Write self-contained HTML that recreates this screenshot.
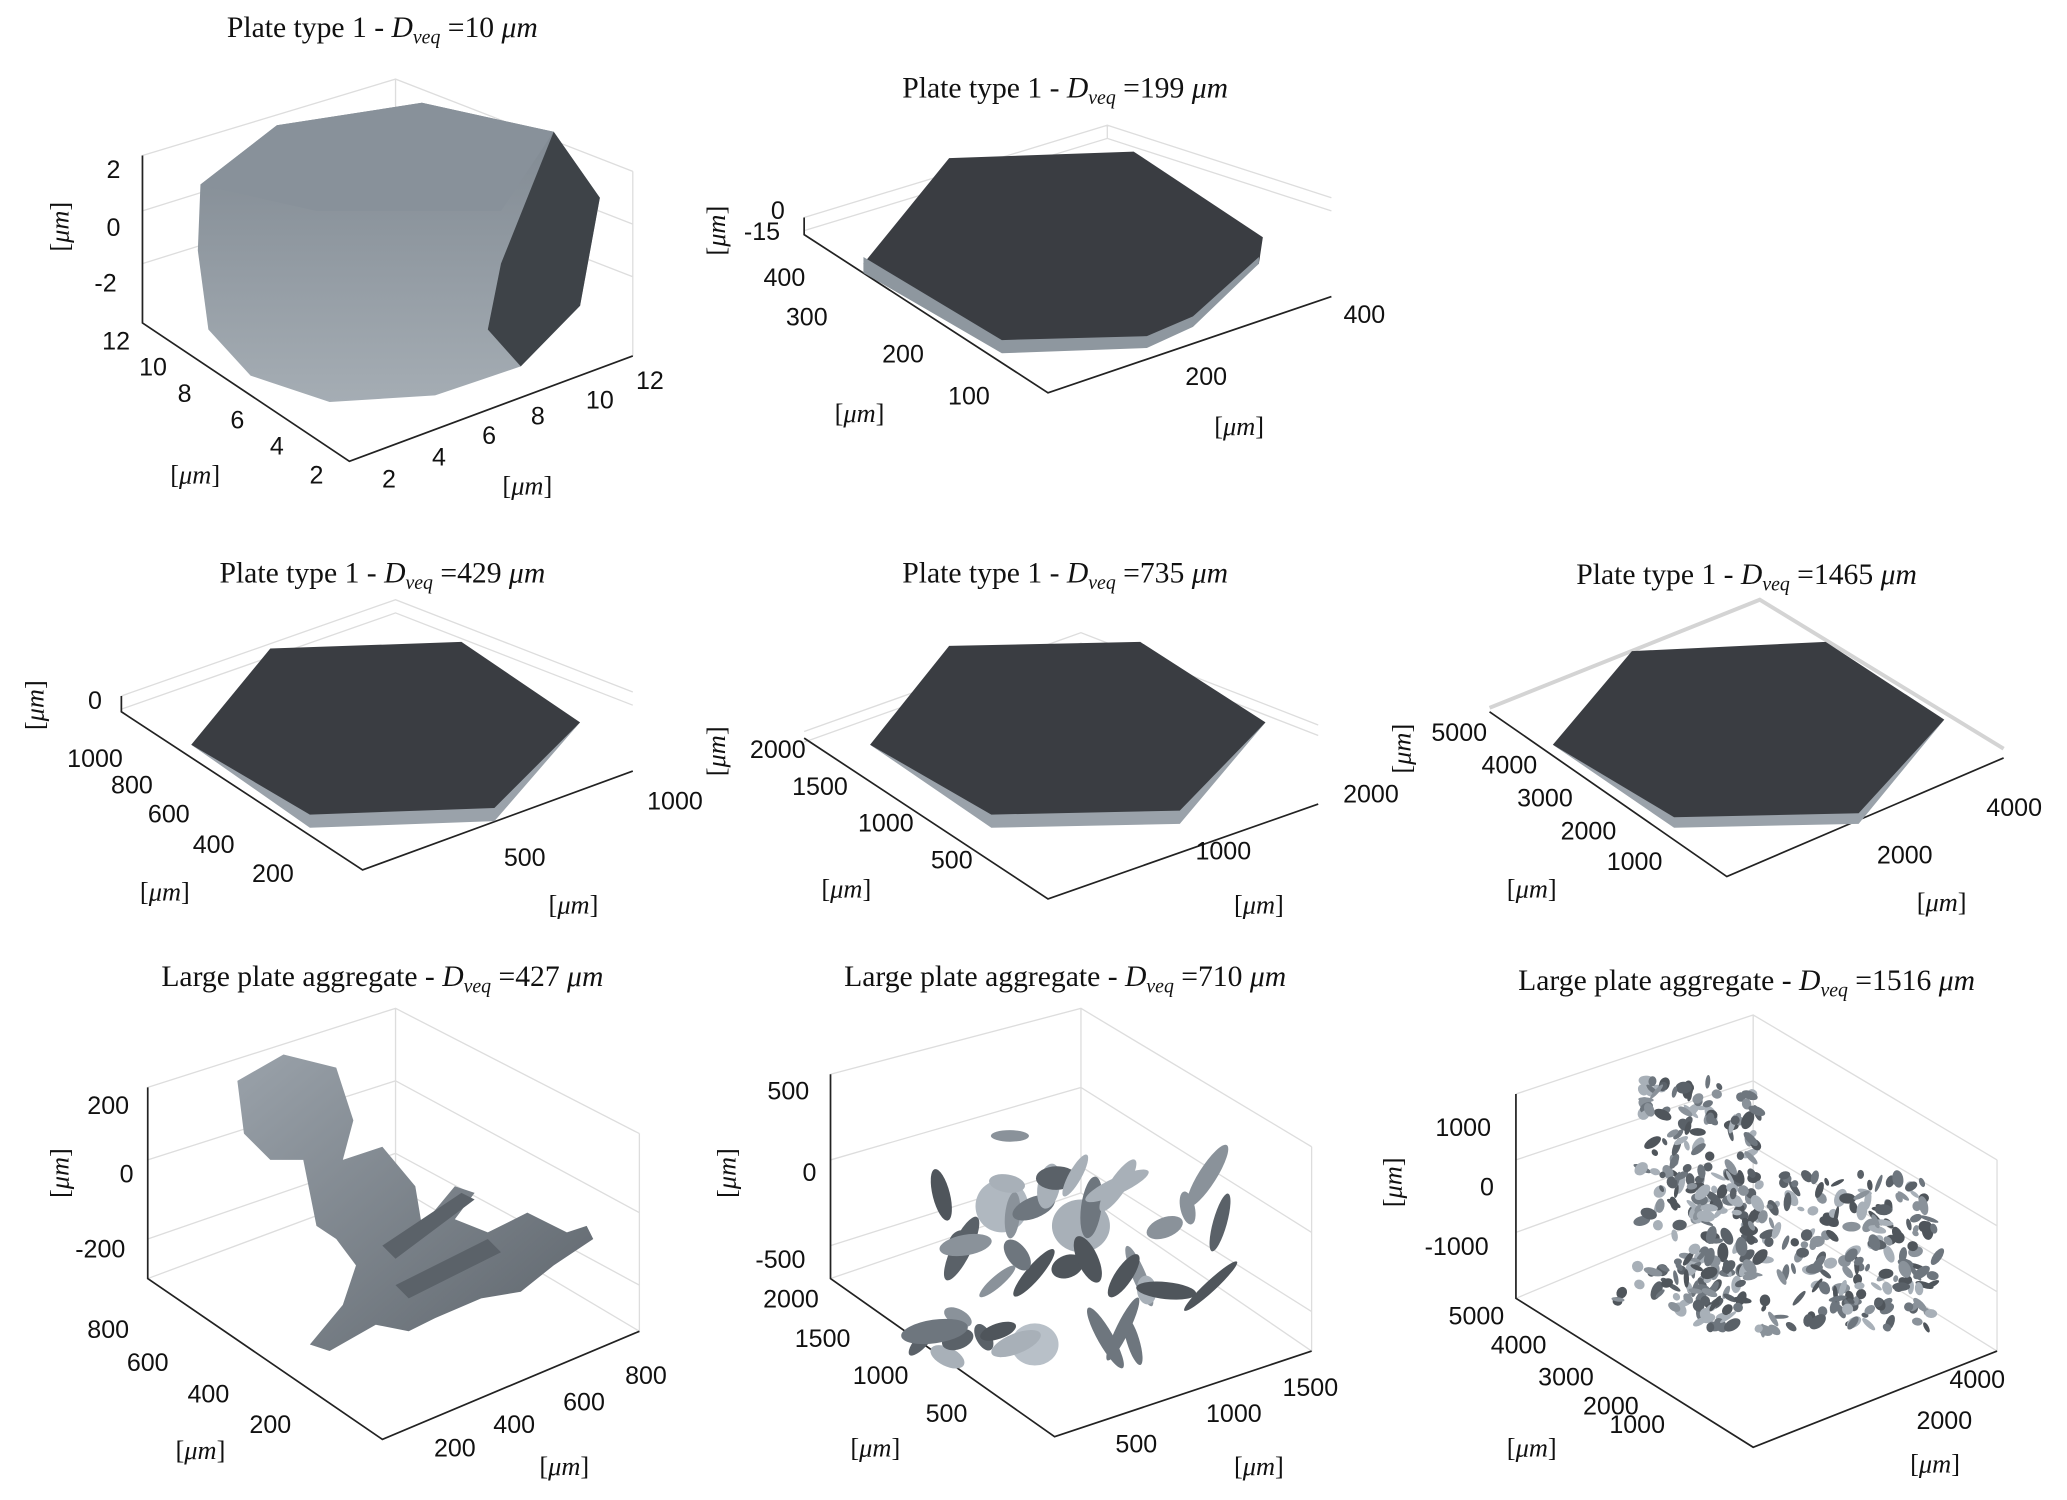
<!DOCTYPE html>
<html><head><meta charset="utf-8"><style>
html,body{margin:0;padding:0;background:#fff}
svg{display:block}
.t{font-family:"Liberation Serif",serif;font-size:22.5px;fill:#111;text-anchor:middle}
.k{font-family:"Liberation Sans","DejaVu Sans",sans-serif;font-size:19px;fill:#111;text-anchor:middle}
.l{font-family:"Liberation Serif",serif;font-size:20px;fill:#111;text-anchor:middle}
.ax{stroke:#222;stroke-width:1.3;fill:none}
.g{stroke:#ddd;stroke-width:1;fill:none}
</style></head><body>
<svg id="s" width="2067" height="1500" viewBox="0 0 1568 1138" xmlns="http://www.w3.org/2000/svg">
<defs>
<linearGradient id="pl" x1="0" y1="0" x2="0" y2="1"><stop offset="0" stop-color="#7d868f"/><stop offset="1" stop-color="#a5adb4"/></linearGradient>
<linearGradient id="bl" x1="0" y1="0" x2="1" y2="1"><stop offset="0" stop-color="#9aa2aa"/><stop offset="1" stop-color="#5d646b"/></linearGradient>
</defs>

<text class="t" x="290" y="28">Plate type 1 - <tspan font-style="italic">D<tspan font-size="15" dy="5">veq</tspan></tspan><tspan dy="-5"> =10 </tspan><tspan font-style="italic">μm</tspan></text>
<text class="t" x="808" y="74">Plate type 1 - <tspan font-style="italic">D<tspan font-size="15" dy="5">veq</tspan></tspan><tspan dy="-5"> =199 </tspan><tspan font-style="italic">μm</tspan></text>
<text class="t" x="290" y="442">Plate type 1 - <tspan font-style="italic">D<tspan font-size="15" dy="5">veq</tspan></tspan><tspan dy="-5"> =429 </tspan><tspan font-style="italic">μm</tspan></text>
<text class="t" x="808" y="442">Plate type 1 - <tspan font-style="italic">D<tspan font-size="15" dy="5">veq</tspan></tspan><tspan dy="-5"> =735 </tspan><tspan font-style="italic">μm</tspan></text>
<text class="t" x="1325" y="443">Plate type 1 - <tspan font-style="italic">D<tspan font-size="15" dy="5">veq</tspan></tspan><tspan dy="-5"> =1465 </tspan><tspan font-style="italic">μm</tspan></text>
<text class="t" x="290" y="748">Large plate aggregate - <tspan font-style="italic">D<tspan font-size="15" dy="5">veq</tspan></tspan><tspan dy="-5"> =427 </tspan><tspan font-style="italic">μm</tspan></text>
<text class="t" x="808" y="748">Large plate aggregate - <tspan font-style="italic">D<tspan font-size="15" dy="5">veq</tspan></tspan><tspan dy="-5"> =710 </tspan><tspan font-style="italic">μm</tspan></text>
<text class="t" x="1325" y="751">Large plate aggregate - <tspan font-style="italic">D<tspan font-size="15" dy="5">veq</tspan></tspan><tspan dy="-5"> =1516 </tspan><tspan font-style="italic">μm</tspan></text>

<!-- Panel 1 -->
<g class="g">
<path d="M108,118 L300,60 L480,130 M300,60 L300,180 M108,118 L108,245 M480,130 L480,270 M108,160 L300,100 L480,170 M108,200 L300,140 L480,210"/>
</g>
<path class="ax" d="M108,118 L108,245 L265,350 L480,270"/>
<path d="M152,140 L210,95 L320,78 L420,100 L455,150 L440,232 L395,278 L330,300 L250,305 L190,285 L158,250 L150,190 Z" fill="url(#pl)"/>
<path d="M420,100 L455,150 L440,232 L395,278 L370,250 L380,200 Z" fill="#3e4348"/>
<path d="M152,140 L210,95 L320,78 L420,100 L380,160 L240,160 Z" fill="#88919a"/>
<text class="k" x="86" y="135">2</text><text class="k" x="86" y="179">0</text><text class="k" x="80" y="221">-2</text>
<text class="k" x="88" y="265">12</text><text class="k" x="116" y="285">10</text><text class="k" x="140" y="305">8</text><text class="k" x="180" y="325">6</text><text class="k" x="210" y="345">4</text><text class="k" x="240" y="367">2</text>
<text class="k" x="295" y="370">2</text><text class="k" x="333" y="353">4</text><text class="k" x="371" y="337">6</text><text class="k" x="408" y="322">8</text><text class="k" x="455" y="310">10</text><text class="k" x="493" y="295">12</text>
<text class="l" x="148" y="367">[<tspan font-style="italic">μm</tspan>]</text><text class="l" x="400" y="375">[<tspan font-style="italic">μm</tspan>]</text>
<text class="l" transform="translate(52,172) rotate(-90)">[<tspan font-style="italic">μm</tspan>]</text>

<!-- Panel 2 -->
<path class="g" d="M610,165 L840,95 L1010,150 M610,175 L840,105 L1010,160 M840,95 L840,105"/>
<path class="ax" d="M610,165 L610,178 L795,298 L1010,225"/>
<path d="M655,200 L720,120 L860,115 L958,180 L955,200 L905,245 L870,262 L760,267 L655,207 Z" fill="#3a3d42"/>
<path d="M655,195 L760,258 L870,255 L905,240 L955,195 L955,200 L905,248 L870,264 L760,268 L655,207 Z" fill="#8e979f"/>
<text class="k" x="590" y="166">0</text><text class="k" x="578" y="182">-15</text>
<text class="k" x="595" y="217">400</text><text class="k" x="612" y="247">300</text><text class="k" x="685" y="275">200</text><text class="k" x="735" y="307">100</text>
<text class="k" x="915" y="292">200</text><text class="k" x="1035" y="245">400</text>
<text class="l" x="652" y="320">[<tspan font-style="italic">μm</tspan>]</text><text class="l" x="940" y="330">[<tspan font-style="italic">μm</tspan>]</text>
<text class="l" transform="translate(550,175) rotate(-90)">[<tspan font-style="italic">μm</tspan>]</text>

<!-- Panel 4 -->
<path class="g" d="M92,528 L300,455 L480,525 M92,538 L300,465 L480,535"/>
<path class="ax" d="M92,528 L92,540 L275,660 L480,585"/>
<path d="M145,565 L205,492 L350,487 L440,548 L375,620 L235,625 Z" fill="#3a3d42"/>
<path d="M145,565 L235,618 L375,613 L440,548 L375,623 L235,628 Z" fill="#9aa2aa"/>
<text class="k" x="72" y="538">0</text>
<text class="k" x="72" y="582">1000</text><text class="k" x="100" y="602">800</text><text class="k" x="128" y="624">600</text><text class="k" x="162" y="647">400</text><text class="k" x="207" y="669">200</text>
<text class="k" x="398" y="657">500</text><text class="k" x="512" y="614">1000</text>
<text class="l" x="125" y="683">[<tspan font-style="italic">μm</tspan>]</text><text class="l" x="435" y="693">[<tspan font-style="italic">μm</tspan>]</text>
<text class="l" transform="translate(33,535) rotate(-90)">[<tspan font-style="italic">μm</tspan>]</text>

<!-- Panel 5 -->
<path class="g" d="M610,555 L820,480 L1000,550 M610,563 L820,488 L1000,558"/>
<path class="ax" d="M610,560 L795,682 L1000,610"/>
<path d="M660,565 L720,490 L865,487 L960,548 L895,622 L752,625 Z" fill="#3a3d42"/>
<path d="M660,565 L752,618 L895,615 L960,548 L895,625 L752,628 Z" fill="#9aa2aa"/>
<text class="k" x="590" y="575">2000</text><text class="k" x="622" y="603">1500</text><text class="k" x="672" y="631">1000</text><text class="k" x="722" y="659">500</text>
<text class="k" x="928" y="652">1000</text><text class="k" x="1040" y="609">2000</text>
<text class="l" x="642" y="681">[<tspan font-style="italic">μm</tspan>]</text><text class="l" x="955" y="693">[<tspan font-style="italic">μm</tspan>]</text>
<text class="l" transform="translate(550,570) rotate(-90)">[<tspan font-style="italic">μm</tspan>]</text>

<!-- Panel 6 -->
<path d="M1130,537 L1335,455 L1520,568" stroke="#d4d4d4" stroke-width="3" fill="none"/>
<path class="ax" d="M1130,540 L1310,665 L1520,575"/>
<path d="M1178,565 L1238,494 L1385,487 L1475,546 L1410,622 L1270,626 Z" fill="#3a3d42"/>
<path d="M1178,565 L1270,620 L1410,617 L1475,546 L1410,625 L1270,628 Z" fill="#9aa2aa"/>
<text class="k" x="1107" y="562">5000</text><text class="k" x="1145" y="587">4000</text><text class="k" x="1172" y="612">3000</text><text class="k" x="1205" y="637">2000</text><text class="k" x="1240" y="660">1000</text>
<text class="k" x="1445" y="655">2000</text><text class="k" x="1528" y="619">4000</text>
<text class="l" x="1162" y="681">[<tspan font-style="italic">μm</tspan>]</text><text class="l" x="1473" y="691">[<tspan font-style="italic">μm</tspan>]</text>
<text class="l" transform="translate(1070,568) rotate(-90)">[<tspan font-style="italic">μm</tspan>]</text>

<g class="g">
<path d="M112,825 L112,970 L290,1092 L485,1010 L485,860 M112,825 L300,765 L485,860 M300,765 L300,900 L112,970 M300,900 L485,1010 M112,880 L300,820 L485,920 M112,940 L300,875 L485,975"/>
<path d="M630,815 L630,970 L800,1090 L995,1025 L995,870 M630,815 L820,765 L995,870 M820,765 L820,905 L630,970 M820,905 L995,1025 M630,880 L820,825 L995,935 M630,945 L820,885 L995,995"/>
<path d="M1150,830 L1150,985 L1330,1098 L1515,1025 L1515,880 M1150,830 L1330,770 L1515,880 M1330,770 L1330,910 L1150,985 M1330,910 L1515,1025 M1150,880 L1330,820 L1515,930 M1150,935 L1330,870 L1515,980"/>
</g>
<path class="ax" d="M112,825 L112,970 L290,1092 L485,1010"/>
<path class="ax" d="M630,815 L630,970 L800,1090 L995,1025"/>
<path class="ax" d="M1150,830 L1150,985 L1330,1098 L1515,1025"/>

<!-- Panel 7 blob -->
<g fill="url(#bl)">
<path d="M180,820 L215,800 L255,810 L268,850 L260,880 L290,870 L315,900 L320,930 L345,900 L360,905 L345,925 L370,935 L400,920 L430,935 L445,930 L450,940 L420,960 L395,980 L365,985 L330,1000 L310,1010 L285,1005 L250,1025 L235,1020 L260,990 L270,960 L255,940 L240,930 L230,880 L205,880 L185,860 Z"/>
</g>
<path d="M290,945 L350,905 L360,910 L300,955 Z M300,975 L370,940 L380,950 L310,985 Z" fill="#5b6269"/>
<text class="k" x="82" y="845">200</text><text class="k" x="96" y="897">0</text><text class="k" x="76" y="954">-200</text>
<text class="k" x="82" y="1015">800</text><text class="k" x="112" y="1040">600</text><text class="k" x="158" y="1064">400</text><text class="k" x="205" y="1087">200</text>
<text class="k" x="345" y="1105">200</text><text class="k" x="390" y="1087">400</text><text class="k" x="443" y="1070">600</text><text class="k" x="490" y="1050">800</text>
<text class="l" x="152" y="1107">[<tspan font-style="italic">μm</tspan>]</text><text class="l" x="428" y="1119">[<tspan font-style="italic">μm</tspan>]</text>
<text class="l" transform="translate(52,890) rotate(-90)">[<tspan font-style="italic">μm</tspan>]</text>

<g id="p8"></g>
<text class="k" x="598" y="834">500</text><text class="k" x="614" y="896">0</text><text class="k" x="592" y="962">-500</text>
<text class="k" x="600" y="992">2000</text><text class="k" x="624" y="1022">1500</text><text class="k" x="668" y="1050">1000</text><text class="k" x="718" y="1079">500</text>
<text class="k" x="862" y="1102">500</text><text class="k" x="936" y="1079">1000</text><text class="k" x="994" y="1059">1500</text>
<text class="l" x="664" y="1105">[<tspan font-style="italic">μm</tspan>]</text><text class="l" x="955" y="1119">[<tspan font-style="italic">μm</tspan>]</text>
<text class="l" transform="translate(558,890) rotate(-90)">[<tspan font-style="italic">μm</tspan>]</text>

<g id="p9"></g>
<text class="k" x="1110" y="862">1000</text><text class="k" x="1128" y="907">0</text><text class="k" x="1105" y="952">-1000</text>
<text class="k" x="1120" y="1005">5000</text><text class="k" x="1152" y="1027">4000</text><text class="k" x="1188" y="1051">3000</text><text class="k" x="1222" y="1073">2000</text><text class="k" x="1242" y="1087">1000</text>
<text class="k" x="1475" y="1084">2000</text><text class="k" x="1500" y="1053">4000</text>
<text class="l" x="1162" y="1105">[<tspan font-style="italic">μm</tspan>]</text><text class="l" x="1468" y="1117">[<tspan font-style="italic">μm</tspan>]</text>
<text class="l" transform="translate(1063,897) rotate(-90)">[<tspan font-style="italic">μm</tspan>]</text>
</svg>
<script>
(function(){
var s=7;function r(){s=(s*16807)%2147483647;return s/2147483647;}
var NS="http://www.w3.org/2000/svg";
function add(g,cx,cy,rx,ry,a,f){var e=document.createElementNS(NS,"ellipse");e.setAttribute("cx",cx);e.setAttribute("cy",cy);e.setAttribute("rx",rx);e.setAttribute("ry",ry);e.setAttribute("transform","rotate("+a+" "+cx+" "+cy+")");e.setAttribute("fill",f);g.appendChild(e);}
var g8=document.getElementById("p8");
var cols=["#5a6168","#6e767e","#8a929a","#a8b0b8","#4f555b"];
add(g8,820,930,22,20,0,"#a8b0b8");add(g8,760,915,20,20,0,"#b0b8c0");add(g8,785,1020,18,16,0,"#b8c0c8");
for(var i=0;i<45;i++){var cx=700+r()*240,cy=860+r()*170;if(cy>980&&cx>870)continue;if(cy<880&&cx>880)continue;add(g8,cx,cy,10+r()*18,4+r()*5,r()*180,cols[i%5]);}
var g9=document.getElementById("p9");
for(var i=0;i<450;i++){var t=r();var cx,cy;
if(t<0.25){cx=1245+r()*90;cy=820+r()*110;}else if(t<0.9){cx=1270+r()*200;cy=890+r()*120;}else{cx=1225+r()*100;cy=960+r()*30;}
add(g9,cx,cy,2.5+r()*5,1.5+r()*3,r()*180,cols[Math.floor(r()*5)]);}
})();
</script>
</body></html>
